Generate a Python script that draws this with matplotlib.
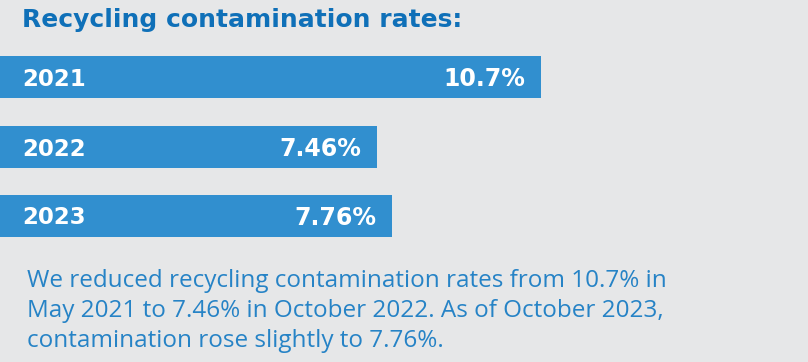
import matplotlib
matplotlib.use("Agg")
import matplotlib.pyplot as plt

years = ["2021", "2022", "2023"]
rates = [10.7, 7.46, 7.76]
labels = ["10.7%", "7.46%", "7.76%"]
title = "Recycling contamination rates:"
caption_lines = ["We reduced recycling contamination rates from 10.7% in",
                 "May 2021 to 7.46% in October 2022. As of October 2023,",
                 "contamination rose slightly to 7.76%."]

W, H = 808, 362
BG = "#e6e7e8"
BAR = "#318fcf"
TITLE_C = "#0f70b8"
CAP_C = "#2683c6"

fig = plt.figure(figsize=(W / 100, H / 100), dpi=100, facecolor=BG)
ax = fig.add_axes([0, 0, 1, 1], facecolor=BG)
px_per_unit = 50.56
ax.set_xlim(0, W / px_per_unit)
ax.set_ylim(H, 0)
ax.axis("off")

centers = [77, 147, 215.5]
ax.barh(centers, rates, height=42, color=BAR, left=0)

def fx(x):
    return x / W

def fy(y):
    return 1 - y / H

BOLD = "DejaVu Sans"
for c, yr, r, lab in zip(centers, years, rates, labels):
    ax.text(22 / px_per_unit, c, yr, color="white", fontsize=16.5, fontweight="bold",
            family=BOLD, va="center_baseline", ha="left")
    ax.text(r - 16 / px_per_unit, c, lab, color="white", fontsize=17, fontweight="bold",
            family=BOLD, va="center_baseline", ha="right")

fig.text(fx(22), fy(27), title, color=TITLE_C, fontsize=18, fontweight="bold",
         family=BOLD, va="baseline", ha="left")

for i, line in enumerate(caption_lines):
    fig.text(fx(27), fy(287 + 30 * i), line, color=CAP_C, fontsize=17.5,
             family="Open Sans", va="baseline", ha="left")

fig.savefig("out.png", dpi=100, facecolor=BG)
